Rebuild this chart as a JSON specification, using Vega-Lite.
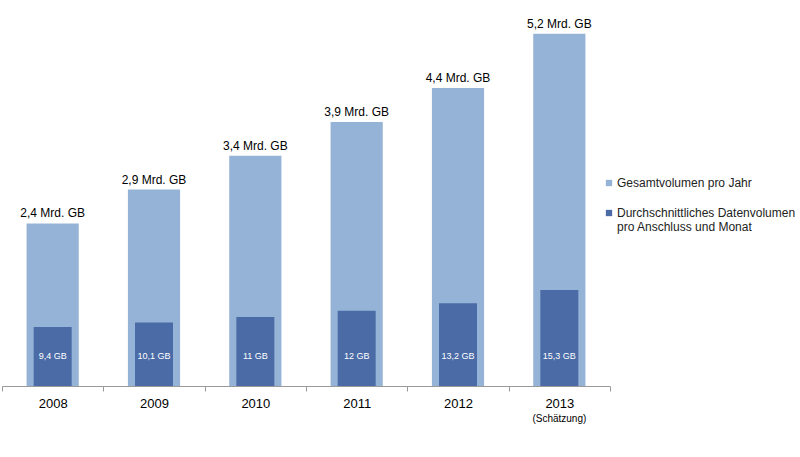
{
  "$schema": "https://vega.github.io/schema/vega-lite/v6.json",
  "autosize": "none",
  "width": 608,
  "height": 386,
  "padding": {"left": 2, "top": 0, "right": 190, "bottom": 71},
  "background": "white",
  "data": {
    "values": [
      {"year": "2008", "total": 2.4, "avg": 9.4, "totalLabel": "2,4 Mrd. GB", "avgLabel": "9,4 GB", "note": ""},
      {"year": "2009", "total": 2.9, "avg": 10.1, "totalLabel": "2,9 Mrd. GB", "avgLabel": "10,1 GB", "note": ""},
      {"year": "2010", "total": 3.4, "avg": 11, "totalLabel": "3,4 Mrd. GB", "avgLabel": "11 GB", "note": ""},
      {"year": "2011", "total": 3.9, "avg": 12, "totalLabel": "3,9 Mrd. GB", "avgLabel": "12 GB", "note": ""},
      {"year": "2012", "total": 4.4, "avg": 13.2, "totalLabel": "4,4 Mrd. GB", "avgLabel": "13,2 GB", "note": ""},
      {"year": "2013", "total": 5.2, "avg": 15.3, "totalLabel": "5,2 Mrd. GB", "avgLabel": "15,3 GB", "note": "(Schätzung)"}
    ]
  },
  "encoding": {
    "x": {
      "field": "year",
      "type": "ordinal",
      "title": null,
      "scale": {"paddingInner": 0, "paddingOuter": 0},
      "axis": {
        "labelAngle": 0,
        "labelFont": "Liberation Sans",
        "labelFontSize": 13,
        "labelColor": "#000000",
        "labelPadding": 6,
        "domainColor": "#9a9a9a",
        "tickColor": "#9a9a9a",
        "tickSize": 5,
        "tickBand": "extent"
      }
    }
  },
  "layer": [
    {
      "layer": [
        {
          "mark": {"type": "bar", "width": {"band": 0.515}},
          "encoding": {
            "y": {"field": "total", "type": "quantitative", "scale": {"domain": [0, 5.7], "nice": false}, "axis": null},
            "color": {
              "datum": "Gesamtvolumen pro Jahr",
              "type": "nominal",
              "scale": {
                "domain": ["Gesamtvolumen pro Jahr", "Durchschnittliches Datenvolumen pro Anschluss und Monat"],
                "range": ["#95b3d7", "#4a6ba6"]
              },
              "legend": {
                "title": null,
                "orient": "none",
                "legendX": 601,
                "legendY": 177,
                "symbolType": "square",
                "symbolSize": 40,
                "symbolStrokeWidth": 0,
                "labelFont": "Liberation Sans",
                "labelFontSize": 12,
                "labelColor": "#222222",
                "labelLimit": 300,
                "labelOffset": 2,
                "rowPadding": 18,
                "labelExpr": "datum.label == 'Gesamtvolumen pro Jahr' ? datum.label : ['Durchschnittliches Datenvolumen', 'pro Anschluss und Monat']"
              }
            }
          }
        },
        {
          "mark": {"type": "text", "baseline": "bottom", "dy": -3, "font": "Liberation Sans", "fontSize": 12, "color": "#000000"},
          "encoding": {
            "y": {"field": "total", "type": "quantitative", "scale": {"domain": [0, 5.7], "nice": false}, "axis": null},
            "text": {"field": "totalLabel"}
          }
        },
        {
          "mark": {"type": "text", "baseline": "middle", "font": "Liberation Sans", "fontSize": 10, "color": "#000000", "clip": false},
          "encoding": {
            "y": {"datum": -0.49, "type": "quantitative", "scale": {"domain": [0, 5.7], "nice": false}, "axis": null},
            "text": {"field": "note"}
          }
        }
      ]
    },
    {
      "layer": [
        {
          "mark": {"type": "bar", "width": {"band": 0.375}, "color": "#4a6ba6"},
          "encoding": {
            "y": {"field": "avg", "type": "quantitative", "scale": {"domain": [0, 61.5], "nice": false}, "axis": null}
          }
        },
        {
          "mark": {"type": "text", "baseline": "middle", "font": "Liberation Sans", "fontSize": 9, "color": "#ffffff"},
          "encoding": {
            "y": {"datum": 4.8, "type": "quantitative", "scale": {"domain": [0, 61.5], "nice": false}, "axis": null},
            "text": {"field": "avgLabel"}
          }
        }
      ]
    }
  ],
  "resolve": {"scale": {"y": "independent"}},
  "config": {"view": {"stroke": null}}
}
